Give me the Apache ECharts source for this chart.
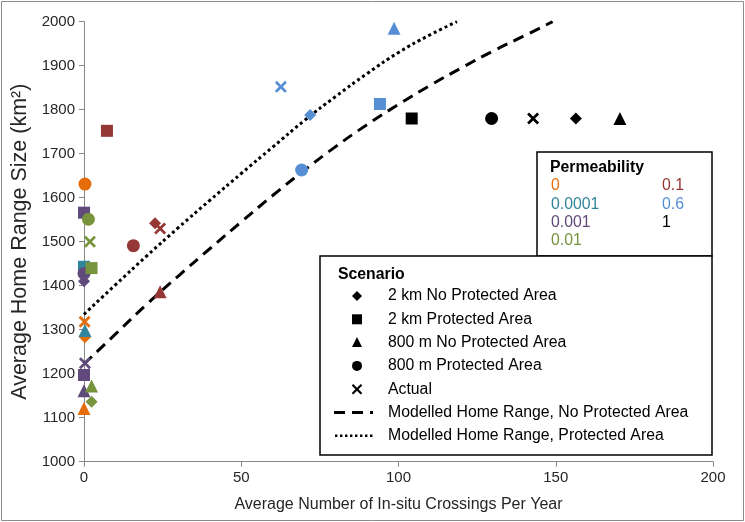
<!DOCTYPE html>
<html>
<head>
<meta charset="utf-8">
<script src="https://cdn.jsdelivr.net/npm/echarts@6/dist/echarts.min.js"></script>
<style>
html,body{margin:0;padding:0;background:#fff;}
#chart{width:745px;height:522px;}
</style>
</head>
<body>
<div id="chart"></div>
<script>
// ---- Data ----
const scenarioNames = ['2 km No Protected Area', '2 km Protected Area', '800 m No Protected Area', '800 m Protected Area', 'Actual'];
const lineNames = ['Modelled Home Range, No Protected Area', 'Modelled Home Range, Protected Area'];
const permeabilityLabels = ['0', '0.0001', '0.001', '0.01', '0.1', '0.6', '1'];

// scenario index: 0 = 2 km No PA, 1 = 2 km PA, 2 = 800 m No PA, 3 = 800 m PA, 4 = Actual
const perm0Scenario = [1, 3, 0, 2, 4];
const perm0X = [0, 0.3, 0.3, 0, 0.2];
const perm0Y = [1440, 1631, 1283, 1121, 1318];

const perm00001Scenario = [2, 1];
const perm00001X = [0.3, 0];
const perm00001Y = [1298, 1443];

const perm0001Scenario = [0, 3, 1, 1, 2, 4];
const perm0001X = [0, 0, 0, 0, 0, 0.3];
const perm0001Y = [1410, 1428, 1566, 1197, 1161, 1224];

const perm001Scenario = [1, 3, 4, 2, 0];
const perm001X = [2.4, 1.4, 1.9, 2.4, 2.4];
const perm001Y = [1440, 1551, 1500, 1172, 1136];

const perm01Scenario = [1, 3, 0, 4, 2];
const perm01X = [7.3, 15.7, 22.6, 24.2, 24.2];
const perm01Y = [1752, 1491, 1542, 1530, 1386];

const perm06Scenario = [0, 1, 2, 3, 4];
const perm06X = [71.9, 94.1, 98.6, 69.2, 62.6];
const perm06Y = [1788, 1813, 1985, 1663, 1852];

const perm1Scenario = [0, 1, 2, 3, 4];
const perm1X = [156.4, 104.2, 170.4, 129.6, 142.8];
const perm1Y = [1780, 1780, 1780, 1780, 1780];

const modelNoPAX = [0, 10, 20, 30, 40, 50, 60, 70, 80, 90, 100, 110, 120, 130, 140, 149];
const modelNoPAY = [1222, 1290, 1358, 1422, 1484, 1545, 1605, 1662, 1716, 1766, 1812, 1855, 1895, 1933, 1968, 2000];
const modelPAX = [0, 10, 20, 30, 40, 50, 60, 70, 80, 90, 100, 110, 118.6];
const modelPAY = [1335, 1402, 1468, 1532, 1594, 1655, 1715, 1775, 1830, 1882, 1930, 1970, 2000];

// ---- Styles ----
const permColors = ['#E46C0A', '#31859C', '#604A7B', '#77933C', '#953735', '#558ED5', '#000000'];
const XPATH = 'path://M0,1.6L1.6,0L5,3.4L8.4,0L10,1.6L6.6,5L10,8.4L8.4,10L5,6.6L1.6,10L0,8.4L3.4,5Z';
const scenarioSymbols = ['diamond', 'rect', 'triangle', 'circle', XPATH];
const scenarioSizes = [12, 12, 13, 13, 12];
const FONT = '"Liberation Sans", Arial, sans-serif';

const permSets = [
  [perm0Scenario, perm0X, perm0Y],
  [perm00001Scenario, perm00001X, perm00001Y],
  [perm0001Scenario, perm0001X, perm0001Y],
  [perm001Scenario, perm001X, perm001Y],
  [perm01Scenario, perm01X, perm01Y],
  [perm06Scenario, perm06X, perm06Y],
  [perm1Scenario, perm1X, perm1Y]
];

const series = [];
series.push({
  name: lineNames[0], type: 'line', smooth: true, symbol: 'none', z: 1,
  data: modelNoPAX.map((x, i) => [x, modelNoPAY[i]]),
  lineStyle: { color: '#000', width: 3, type: [11, 7], cap: 'butt' }
});
series.push({
  name: lineNames[1], type: 'line', smooth: true, symbol: 'none', z: 1,
  data: modelPAX.map((x, i) => [x, modelPAY[i]]),
  lineStyle: { color: '#000', width: 3, type: [3, 3], cap: 'butt' }
});
permSets.forEach((set, p) => {
  const [sc, xs, ys] = set;
  series.push({
    name: permeabilityLabels[p], type: 'scatter', z: 3,
    itemStyle: { color: permColors[p], opacity: 1 },
    data: xs.map((x, i) => ({
      value: [x, ys[i]],
      symbol: scenarioSymbols[sc[i]],
      symbolSize: scenarioSizes[sc[i]]
    }))
  });
});

// ---- Legend graphics ----
const LF = '15.8px ' + FONT;
const LFB = 'bold 15.8px ' + FONT;
const graphics = [];
graphics.push({ type: 'rect', shape: { x: 1.5, y: 1.5, width: 742, height: 519 }, style: { fill: 'none', stroke: '#8c8c8c', lineWidth: 1 }, silent: true });
// Permeability box
const pb = { x: 537, y: 152, w: 175, h: 104 };
graphics.push({ type: 'rect', shape: { x: pb.x, y: pb.y, width: pb.w, height: pb.h }, style: { fill: '#fff', stroke: '#000', lineWidth: 1.5 }, z: 10 });
graphics.push({ type: 'text', x: 550, y: 168, z: 11, style: { text: 'Permeability', font: LFB, fill: '#000', verticalAlign: 'middle' } });
const leftCol = [0, 1, 2, 3], rightCol = [4, 5, 6];
leftCol.forEach((p, i) => graphics.push({ type: 'text', x: 551, y: 186 + i * 18.3, z: 11, style: { text: permeabilityLabels[p], font: LF, fill: permColors[p], verticalAlign: 'middle' } }));
rightCol.forEach((p, i) => graphics.push({ type: 'text', x: 662, y: 186 + i * 18.3, z: 11, style: { text: permeabilityLabels[p], font: LF, fill: permColors[p], verticalAlign: 'middle' } }));
// Scenario box
const sb = { x: 320, y: 256, w: 392, h: 199 };
graphics.push({ type: 'rect', shape: { x: sb.x, y: sb.y, width: sb.w, height: sb.h }, style: { fill: '#fff', stroke: '#000', lineWidth: 1.5 }, z: 10 });
graphics.push({ type: 'text', x: 338, y: 275, z: 11, style: { text: 'Scenario', font: LFB, fill: '#000', verticalAlign: 'middle' } });
const rowY = [296, 319.3, 342.6, 365.9, 389.2, 412.5, 435.8];
const legendLabels = scenarioNames.concat(lineNames);
legendLabels.forEach((t, i) => graphics.push({ type: 'text', x: 388, y: rowY[i], z: 11, style: { text: t, font: LF, fill: '#000', verticalAlign: 'middle' } }));
const cx = 357;
graphics.push({ type: 'polygon', z: 11, shape: { points: [[cx, rowY[0] - 5], [cx + 5, rowY[0]], [cx, rowY[0] + 5], [cx - 5, rowY[0]]] }, style: { fill: '#000' } });
graphics.push({ type: 'rect', z: 11, shape: { x: cx - 5, y: rowY[1] - 5, width: 10, height: 10 }, style: { fill: '#000' } });
graphics.push({ type: 'polygon', z: 11, shape: { points: [[cx, rowY[2] - 5.5], [cx + 5, rowY[2] + 4.5], [cx - 5, rowY[2] + 4.5]] }, style: { fill: '#000' } });
graphics.push({ type: 'circle', z: 11, shape: { cx: cx, cy: rowY[3], r: 5 }, style: { fill: '#000' } });
graphics.push({ type: 'line', z: 11, shape: { x1: cx - 4.5, y1: rowY[4] - 4.5, x2: cx + 4.5, y2: rowY[4] + 4.5 }, style: { stroke: '#000', lineWidth: 2.2 } });
graphics.push({ type: 'line', z: 11, shape: { x1: cx + 4.5, y1: rowY[4] - 4.5, x2: cx - 4.5, y2: rowY[4] + 4.5 }, style: { stroke: '#000', lineWidth: 2.2 } });
graphics.push({ type: 'line', z: 11, shape: { x1: 334, y1: rowY[5], x2: 373, y2: rowY[5] }, style: { stroke: '#000', lineWidth: 3, lineDash: [11, 7] } });
graphics.push({ type: 'line', z: 11, shape: { x1: 335, y1: rowY[6], x2: 374, y2: rowY[6] }, style: { stroke: '#000', lineWidth: 2.4, lineDash: [2.4, 2.6] } });

const chart = echarts.init(document.getElementById('chart'), null, { renderer: 'canvas' });
chart.setOption({
  animation: false,
  backgroundColor: '#fff',
  grid: { left: 84, right: 32, top: 21.7, bottom: 60.3, containLabel: false },
  xAxis: {
    type: 'value', min: 0, max: 200, interval: 50,
    name: 'Average Number of In-situ Crossings Per Year', nameLocation: 'middle', nameGap: 35,
    nameTextStyle: { fontFamily: FONT, fontSize: 16, color: '#262626' },
    axisLine: { show: true, lineStyle: { color: '#868686', width: 1 } },
    axisTick: { show: true, inside: false, length: 5, lineStyle: { color: '#868686' } },
    axisLabel: { fontFamily: FONT, fontSize: 15, color: '#262626', margin: 9 },
    splitLine: { show: false }
  },
  yAxis: {
    type: 'value', min: 1000, max: 2000, interval: 100,
    name: 'Average Home Range Size (km²)', nameLocation: 'middle', nameGap: 52, nameRotate: 90,
    nameTextStyle: { fontFamily: FONT, fontSize: 21.5, color: '#262626' },
    axisLine: { show: true, lineStyle: { color: '#868686', width: 1 } },
    axisTick: { show: true, inside: false, length: 5, lineStyle: { color: '#868686' } },
    axisLabel: { fontFamily: FONT, fontSize: 15, color: '#262626', margin: 9, formatter: v => String(v) },
    splitLine: { show: false }
  },
  series: series,
  graphic: graphics
});
</script>
</body>
</html>
